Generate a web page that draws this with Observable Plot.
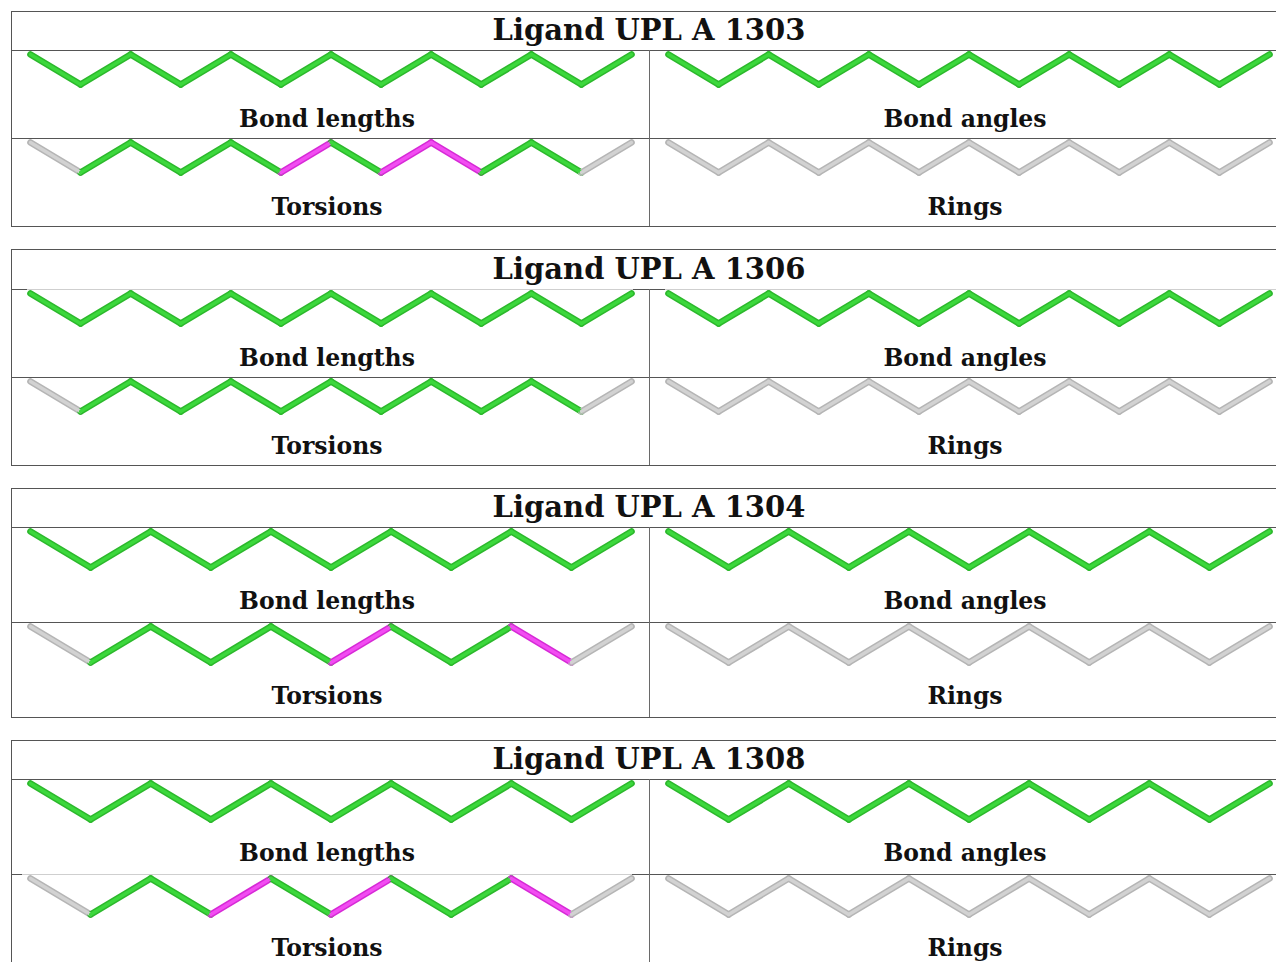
<!DOCTYPE html>
<html>
<head>
<meta charset="utf-8">
<script src="https://cdn.jsdelivr.net/npm/d3@7"></script>
<script src="https://cdn.jsdelivr.net/npm/@observablehq/plot@0.6"></script>
<style>
  html, body { margin: 0; padding: 0; background: #fff; overflow: hidden; width: 1276px; height: 962px; }
  #root { position: relative; width: 1276px; height: 962px; overflow: hidden; }
  .line { position: absolute; background: #555; }
  .title { position: absolute; text-align: center; font-family: "DejaVu Serif", serif; font-weight: bold; color: #111; white-space: nowrap; }
  .panel { position: absolute; width: 638px; }
  .panel svg { display: block; overflow: visible; max-width: none !important; }
</style>
</head>
<body>
<div id="root"></div>
<script>
// ---- data ----
const ligandNames = ["Ligand UPL A 1303", "Ligand UPL A 1306", "Ligand UPL A 1304", "Ligand UPL A 1308"];
const panelLabels = ["Bond lengths", "Bond angles", "Torsions", "Rings"];

// vertical level of each atom in the drawn chain (1 = upper vertex, 0 = lower vertex)
const atoms1303 = [1, 0, 1, 0, 1, 0, 1, 0, 1, 0, 1, 0, 1];
const atoms1306 = [1, 0, 1, 0, 1, 0, 1, 0, 1, 0, 1, 0, 1];
const atoms1304 = [1, 0, 1, 0, 1, 0, 1, 0, 1, 0, 1];
const atoms1308 = [1, 0, 1, 0, 1, 0, 1, 0, 1, 0, 1];

// per-bond validation status: G = no outlier, M = outlier, N = not assessed
const lengths1303  = ["G","G","G","G","G","G","G","G","G","G","G","G"];
const angles1303   = ["G","G","G","G","G","G","G","G","G","G","G","G"];
const torsions1303 = ["N","G","G","G","G","M","G","M","M","G","G","N"];
const rings1303    = ["N","N","N","N","N","N","N","N","N","N","N","N"];

const lengths1306  = ["G","G","G","G","G","G","G","G","G","G","G","G"];
const angles1306   = ["G","G","G","G","G","G","G","G","G","G","G","G"];
const torsions1306 = ["N","G","G","G","G","G","G","G","G","G","G","N"];
const rings1306    = ["N","N","N","N","N","N","N","N","N","N","N","N"];

const lengths1304  = ["G","G","G","G","G","G","G","G","G","G"];
const angles1304   = ["G","G","G","G","G","G","G","G","G","G"];
const torsions1304 = ["N","G","G","G","G","M","G","G","M","N"];
const rings1304    = ["N","N","N","N","N","N","N","N","N","N"];

const lengths1308  = ["G","G","G","G","G","G","G","G","G","G"];
const angles1308   = ["G","G","G","G","G","G","G","G","G","G"];
const torsions1308 = ["N","G","G","M","G","M","G","G","M","N"];
const rings1308    = ["N","N","N","N","N","N","N","N","N","N"];

const ligands = [
  {name: ligandNames[0], atoms: atoms1303, panels: [lengths1303, angles1303, torsions1303, rings1303]},
  {name: ligandNames[1], atoms: atoms1306, panels: [lengths1306, angles1306, torsions1306, rings1306]},
  {name: ligandNames[2], atoms: atoms1304, panels: [lengths1304, angles1304, torsions1304, rings1304]},
  {name: ligandNames[3], atoms: atoms1308, panels: [lengths1308, angles1308, torsions1308, rings1308]}
];

// ---- style / layout ----
const edgeColor = {G: "#2cb82c", M: "#d62ad6", N: "#b5b5b5"};
const coreColor = {G: "#3cd83c", M: "#f24cf2", N: "#d2d2d2"};
const layout = [
  {top: 11,  titleH: 39, rowH: 88, amp: 30, labelBottom: 12, lightTitleRule: false, lightRowRule: false},
  {top: 249, titleH: 40, rowH: 88, amp: 30, labelBottom: 12, lightTitleRule: true,  lightRowRule: false},
  {top: 488, titleH: 39, rowH: 95, amp: 36, labelBottom: 14, lightTitleRule: false, lightRowRule: false},
  {top: 740, titleH: 39, rowH: 95, amp: 36, labelBottom: 14, lightTitleRule: false, lightRowRule: true}
];
const X0 = 11, PANEL_W = 638, TOTAL_W = 1276;

const root = document.getElementById("root");
function line(x, y, w, h, color) {
  const d = document.createElement("div");
  d.className = "line";
  Object.assign(d.style, {left: x + "px", top: y + "px", width: w + "px", height: h + "px"});
  if (color) d.style.background = color;
  root.appendChild(d);
}

function chainPlot(atoms, status, label, L) {
  const bonds = status.map((s, i) => ({i, s, y1: atoms[i], y2: atoms[i + 1]}));
  const common = {x1: "i", x2: d => d.i + 1, y1: "y1", y2: "y2", strokeLinecap: "round"};
  return Plot.plot({
    width: PANEL_W,
    height: L.rowH - 1,
    marginLeft: 19, marginRight: 18, marginTop: 3, marginBottom: L.labelBottom,
    x: {domain: [0, atoms.length - 1], axis: null},
    y: {domain: [0, 1], range: [3 + L.amp, 3], axis: null},
    style: {background: "transparent", overflow: "visible", maxWidth: "none"},
    marks: [
      Plot.link(bonds, {...common, stroke: d => edgeColor[d.s], strokeWidth: 6.6}),
      Plot.link(bonds, {...common, stroke: d => coreColor[d.s], strokeWidth: 3.4}),
      Plot.text([label], {
        text: d => d, frameAnchor: "bottom", lineAnchor: "bottom", dx: -4,
        fontSize: 23.5, fontFamily: "DejaVu Serif", fontWeight: "bold", fill: "#111"
      })
    ]
  });
}

ligands.forEach((lig, b) => {
  const L = layout[b];
  const T = L.top;
  const yTitle = T + L.titleH;
  const yRow = yTitle + L.rowH;
  const yBot = yRow + L.rowH;

  // table rules
  line(X0, T, TOTAL_W, 1);
  line(X0, yTitle, TOTAL_W, 1);
  line(X0, yRow, TOTAL_W, 1);
  line(X0, yBot, TOTAL_W, 1);
  if (L.lightTitleRule) { line(27, yTitle, 606, 1, "#cfcfcf"); line(665, yTitle, 611, 1, "#cfcfcf"); }
  if (L.lightRowRule) { line(22, yRow, 610, 1, "#cfcfcf"); }
  line(X0, T, 1, yBot - T + 1);
  line(X0 + PANEL_W, yTitle, 1, yBot - yTitle, "#6a6a6a");

  // title
  const t = document.createElement("div");
  t.className = "title";
  Object.assign(t.style, {left: X0 + "px", top: T + "px", width: TOTAL_W + "px", height: L.titleH + "px",
    lineHeight: L.titleH + "px", fontSize: "29px"});
  t.textContent = lig.name;
  root.appendChild(t);

  // panels
  lig.panels.forEach((status, p) => {
    const r = Math.floor(p / 2), c = p % 2;
    const div = document.createElement("div");
    div.className = "panel";
    Object.assign(div.style, {left: (X0 + c * PANEL_W) + "px", top: (yTitle + 1 + r * L.rowH) + "px"});
    div.appendChild(chainPlot(lig.atoms, status, panelLabels[p], L));
    root.appendChild(div);
  });
});
</script>
</body>
</html>
